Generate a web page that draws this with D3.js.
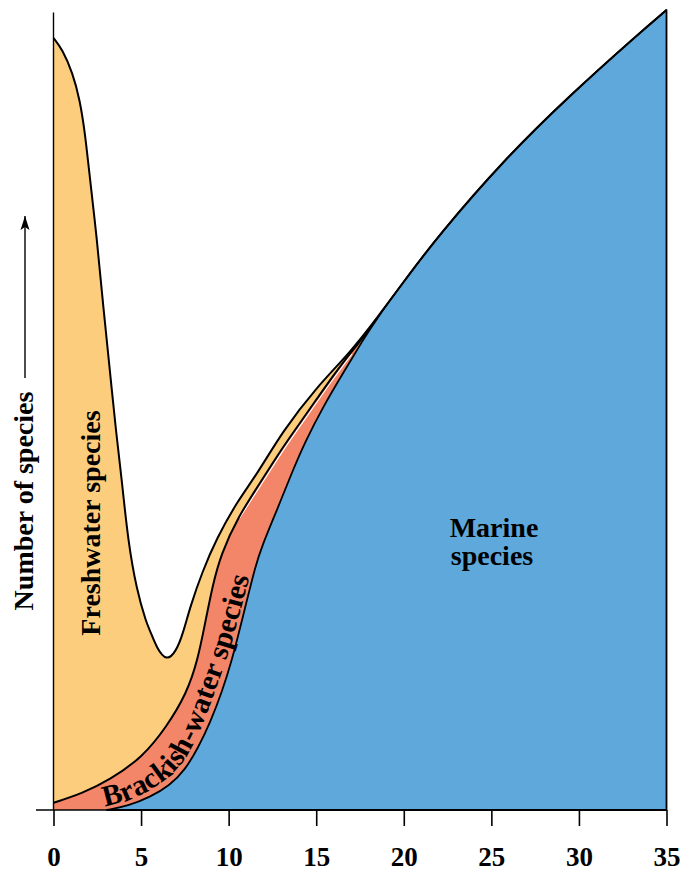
<!DOCTYPE html>
<html>
<head>
<meta charset="utf-8">
<script src="https://cdn.jsdelivr.net/npm/d3@7"></script>
<style>
  html, body { margin: 0; padding: 0; background: #fff; }
  svg { display: block; }
  text { font-family: "Liberation Serif", "Times New Roman", serif; font-weight: bold; fill: #000; }
</style>
</head>
<body>
<svg id="chart" width="686" height="871"></svg>
<script>
// Salinity (x, 0–35) against relative number of species (y, 0–100)
const xTicks = [0, 5, 10, 15, 20, 25, 30, 35];

// Upper envelope: all species (freshwater on top of brackish on top of marine)
const totalSpecies = [
  [0, 96.5], [0.5, 95.1], [1.1, 92.1], [1.5, 88.8], [1.8, 84.6], [2.0, 80.5],
  [2.5, 71.0], [2.8, 63.8], [3.1, 57.5], [3.6, 46.6], [3.9, 41.3], [4.25, 33.7],
  [4.75, 27.5], [5.3, 23.4], [5.5, 22.5], [5.9, 20.2], [6.45, 18.6], [7.0, 19.8],
  [7.4, 22.1], [7.8, 25.4], [8.5, 29.8], [9.3, 33.9], [10.5, 38.6], [11.6, 41.9],
  [13.1, 47.4], [15.0, 52.8], [16.9, 57.1], [18.47, 61.5], [20.19, 66.6],
  [21.9, 71.6], [25.68, 81.2], [29.51, 89.4], [33.34, 96.9], [35, 100]
];

// Top of the brackish-water band (brackish + marine)
const brackishTop = [
  [0, 0.9], [1.66, 2.1], [3.2, 3.75], [5.09, 6.6], [6.46, 10.4], [7.61, 14.6],
  [8.24, 18.75], [8.69, 23.75], [9.09, 28.1], [9.55, 31.9], [10.52, 36.6],
  [11.9, 41.25], [13.1, 45.4], [14.47, 49.6], [15.78, 53.75], [16.93, 57.1],
  [17.9, 59.6], [18.47, 61.5]
];

// Top of the marine band
const marineTop = [
  [3.05, 0], [4.25, 0.5], [5.51, 1.6], [6.65, 3.1], [7.51, 5.0], [8.25, 7.75],
  [8.94, 10.9], [9.62, 14.75], [10.19, 18.75], [10.65, 22.75], [11.05, 26.25],
  [11.5, 30.25], [11.9, 33.0], [12.76, 37.5], [13.67, 42.5], [14.36, 46.0],
  [15.39, 50.4], [16.53, 54.6], [17.67, 58.75], [18.47, 61.5], [20.19, 66.6],
  [21.9, 71.6], [25.68, 81.2], [29.51, 89.4], [33.34, 96.9], [35, 100]
];

const colors = { fresh: "#FDCD7E", brackish: "#F38668", marine: "#5EA8DC" };
const yTitle = "Number of species";
const freshLabel = "Freshwater species";
const brackishLabel = "Brackish-water species";
const marineLabel = ["Marine", "species"];

const svg = d3.select("#chart");
const x = d3.scaleLinear().domain([0, 35]).range([53.5, 666.5]);
const y = d3.scaleLinear().domain([0, 100]).range([810, 10]);

const curve = d3.curveBasis;
const area = d3.area().x(d => x(d[0])).y0(y(0)).y1(d => y(d[1])).curve(curve);
const line = d3.line().x(d => x(d[0])).y(d => y(d[1])).curve(curve);

// Bands, painted back to front
svg.append("path").attr("d", area(totalSpecies)).attr("fill", colors.fresh);
svg.append("path").attr("d", area(brackishTop)).attr("fill", colors.brackish);

// thin light seam just under the freshwater/brackish border
svg.append("path")
  .attr("d", line(brackishTop.filter(d => d[0] >= 10.4 && d[0] <= 16.95)))
  .attr("fill", "none").attr("stroke", "#fff").attr("stroke-width", 1.1)
  .attr("transform", "translate(1.7,0.9)");

svg.append("path").attr("d", area(marineTop))
  .attr("fill", colors.marine).attr("stroke", "#000").attr("stroke-width", 1.8)
  .attr("stroke-linejoin", "round");

svg.append("path").attr("d", line(brackishTop))
  .attr("fill", "none").attr("stroke", "#000").attr("stroke-width", 2);
svg.append("path").attr("d", line(totalSpecies))
  .attr("fill", "none").attr("stroke", "#000").attr("stroke-width", 2);

// Axes
svg.append("line")
  .attr("x1", x(0)).attr("x2", x(0)).attr("y1", y(0)).attr("y2", y(99.7))
  .attr("stroke", "#000").attr("stroke-width", 1.4);
svg.append("line")
  .attr("x1", x(-1)).attr("x2", x(35)).attr("y1", y(0)).attr("y2", y(0))
  .attr("stroke", "#000").attr("stroke-width", 1.6);

const xAxis = svg.append("g")
  .attr("transform", `translate(0,${y(0)})`)
  .call(d3.axisBottom(x).tickValues(xTicks).tickSize(16).tickFormat(d3.format("d")));
xAxis.select(".domain").remove();
xAxis.selectAll(".tick line").attr("stroke", "#000").attr("stroke-width", 1.6);
xAxis.selectAll(".tick text")
  .attr("y", 56).attr("dy", null)
  .attr("font-family", "Liberation Serif, serif")
  .attr("font-weight", "bold").attr("font-size", 27);

// Y title with arrow
const defs = svg.append("defs");
defs.append("marker")
  .attr("id", "arrowhead").attr("viewBox", "0 0 14 10")
  .attr("refX", 14).attr("refY", 5)
  .attr("markerWidth", 14).attr("markerHeight", 10)
  .attr("markerUnits", "userSpaceOnUse").attr("orient", "auto")
  .append("path").attr("d", "M0,0.5 L14,5 L0,9.5 L3,5 Z").attr("fill", "#000");
svg.append("line")
  .attr("x1", 25).attr("x2", 25).attr("y1", 378).attr("y2", 216)
  .attr("stroke", "#000").attr("stroke-width", 1.4)
  .attr("marker-end", "url(#arrowhead)");
svg.append("text")
  .attr("transform", "translate(33,501) rotate(-90)")
  .attr("text-anchor", "middle").attr("font-size", 28)
  .text(yTitle);

// Freshwater label
svg.append("text")
  .attr("transform", "translate(100,523) rotate(-90)")
  .attr("text-anchor", "middle").attr("font-size", 28)
  .text(freshLabel);

// Marine label
svg.append("text")
  .attr("x", 494).attr("y", 537).attr("text-anchor", "middle").attr("font-size", 28)
  .text(marineLabel[0]);
svg.append("text")
  .attr("x", 492).attr("y", 565).attr("text-anchor", "middle").attr("font-size", 28)
  .text(marineLabel[1]);

// Brackish label follows the band, a little above its lower border
function interp(arr, xv) {
  if (xv <= arr[0][0]) return arr[0][1];
  for (let i = 1; i < arr.length; i++) {
    if (xv <= arr[i][0]) {
      const [x0, y0] = arr[i - 1], [x1, y1] = arr[i];
      return y0 + (y1 - y0) * (xv - x0) / (x1 - x0);
    }
  }
  return arr[arr.length - 1][1];
}
const guide = d3.range(2.6, 12.6, 0.15).map(xv => {
  const lo = interp(marineTop, xv), hi = interp(brackishTop, xv);
  return [xv, lo + 0.14 * (hi - lo)];
});
defs.append("path").attr("id", "brackishGuide")
  .attr("d", d3.line().x(d => x(d[0])).y(d => y(d[1])).curve(d3.curveBasis)(guide));
svg.append("text").attr("font-size", 29.5)
  .append("textPath").attr("href", "#brackishGuide").attr("startOffset", 6)
  .text(brackishLabel);
</script>
</body>
</html>
